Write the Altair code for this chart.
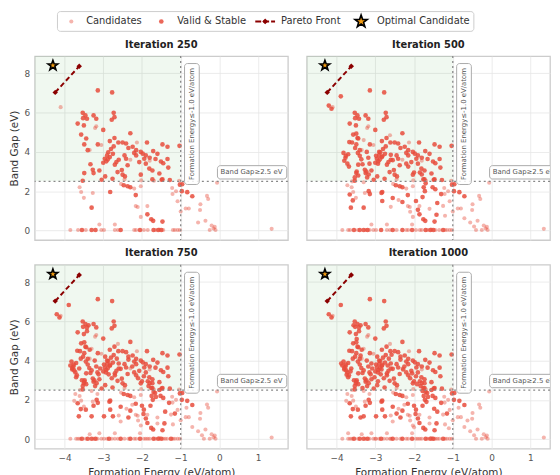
import altair as alt
import pandas as pd

# ------------------------------------------------------------------ data
ITERATIONS = [250, 500, 750, 1000]
SERIES = ["Candidates", "Valid & Stable", "Pareto Front", "Optimal Candidate"]

X_TICKS = [-4, -3, -2, -1, 0, 1]
Y_TICKS = [0, 2, 4, 6, 8]
X_DOMAIN_LEFT = [-4.77, 1.77]
X_DOMAIN_RIGHT = [-4.77, 1.51]
Y_DOMAIN = [-0.49, 8.88]

FE_LIMIT = -1.0
GAP_LIMIT = 2.5
FE_LABEL = "Formation Energy≤-1.0 eV/atom"
GAP_LABEL = "Band Gap≥2.5 eV"
FE_LABEL_POS = [-0.71, 5.42]
FE_BOX = [-0.90, -0.52, 2.34, 8.50]
GAP_LABEL_POS = [0.03, 2.96]
GAP_BOX = [-0.05, 1.74, 2.62, 3.30]

PARETO_X = [-4.24, -3.62]
PARETO_Y = [7.03, 8.36]
OPTIMAL_X = [-4.30]
OPTIMAL_Y = [8.40]

# points already present at iteration 250
VALID_250 = [
    (-3.14, 7.13), (-2.77, 7.03), (-3.53, 5.99), (-3.46, 5.86), (-3.52, 5.72), (-3.42, 5.69),
    (-3.25, 5.86), (-3.18, 5.69), (-2.73, 5.99), (-2.71, 5.77), (-2.78, 5.64), (-3.66, 5.44),
    (-3.50, 5.35), (-3.00, 5.12), (-3.57, 4.88), (-3.44, 4.68), (-3.49, 4.38), (-3.40, 4.09),
    (-3.14, 4.38), (-2.71, 4.71), (-2.83, 4.55), (-2.30, 4.95), (-2.61, 4.48), (-2.50, 4.48),
    (-2.41, 4.43), (-2.73, 4.28), (-2.80, 4.15), (-2.87, 3.98), (-2.90, 3.82), (-2.96, 3.65),
    (-2.92, 3.52), (-2.83, 3.74), (-2.75, 3.90), (-2.66, 3.48), (-3.00, 3.45), (-2.88, 3.62),
    (-1.87, 4.48), (-2.24, 4.26), (-2.15, 4.09), (-2.03, 4.00), (-1.98, 3.91), (-1.90, 3.82),
    (-1.94, 3.65), (-2.15, 3.82), (-2.07, 3.48), (-1.90, 3.40), (-1.81, 3.15), (-1.73, 3.05),
    (-2.45, 3.82), (-2.41, 3.65), (-2.37, 3.32), (-2.52, 3.08), (-1.47, 4.38), (-1.34, 4.26),
    (-1.03, 4.31), (-1.71, 4.04), (-1.65, 3.64), (-1.51, 3.51), (-1.45, 3.42), (-1.34, 3.64),
    (-1.32, 3.20), (-3.33, 3.37), (-3.27, 3.09), (-3.25, 2.92), (-3.49, 2.92), (-2.63, 2.97),
    (-2.50, 2.84), (-2.44, 2.75), (-2.95, 2.75), (-3.04, 2.58), (-2.76, 2.63), (-3.53, 2.53),
    (-2.03, 2.84), (-1.49, 2.58), (-1.28, 2.57), (-1.73, 2.60), (-1.47, 2.60), (-1.02, 2.33),
    (-3.30, 1.16), (-2.82, 1.96), (-2.47, 2.30), (-2.37, 2.25), (-2.30, 2.20), (-2.16, 1.80),
    (-1.86, 0.82), (-1.76, 0.57), (-1.71, 0.49), (-1.47, 0.45), (-0.97, 2.00), (-0.70, 1.74),
    (-0.83, 1.95), (-0.96, 2.35), (-3.55, 0.02), (-3.30, 0.02), (-3.20, 0.02), (-2.55, 0.02),
    (-2.05, 0.02), (-1.70, 0.02), (-1.58, 0.02), (-1.50, 0.02), (-2.60, 3.60), (-2.20, 3.95),
    (-1.80, 3.70), (-2.35, 4.20), (-3.10, 3.05), (-2.70, 3.35), (-1.60, 3.90), (-1.55, 2.90),
]
CAND_250 = [
    (-4.10, 6.28), (-3.21, 5.22), (-2.13, 4.48), (-1.69, 2.53), (-1.04, 2.53), (-3.61, 2.20),
    (-3.57, 1.96), (-3.50, 1.66), (-3.27, 1.91), (-2.54, 2.37), (-2.20, 2.13), (-2.03, 2.25),
    (-2.16, 1.24), (-2.11, 1.19), (-1.86, 1.24), (-2.03, 0.69), (-1.22, 2.16), (-1.21, 1.86),
    (-1.12, 2.00), (-1.08, 1.49), (-0.87, 1.12), (-0.79, 1.12), (-0.49, 1.33), (-0.50, 1.04),
    (-0.32, 1.76), (-0.29, 1.60), (-0.55, 0.40), (-0.36, 0.49), (-0.20, 0.25), (-0.15, 0.10),
    (-0.10, 0.02), (-0.25, 0.02), (-0.12, 0.18), (-0.06, 2.43), (1.35, 0.08), (-1.00, 0.96),
    (-3.85, 0.02), (-3.65, 0.02), (-3.45, 0.02), (-3.10, 0.30), (-3.05, 0.02), (-2.98, 0.02),
    (-2.70, 0.30), (-2.70, 0.02), (-2.62, 0.02), (-2.20, 0.02), (-2.15, 0.02), (-1.95, 0.02),
    (-1.85, 0.02), (-1.65, 0.02), (-1.55, 0.05), (-1.45, 0.02), (-1.20, 0.02), (-1.15, 0.02),
    (-1.08, 0.02), (-1.02, 0.02), (-3.35, 4.10), (-3.18, 5.30), (-3.05, 4.35), (-2.02, 2.55),
    (-2.45, 2.60), (-2.30, 3.60), (-1.80, 3.55),
]

# points added by iteration 500
VALID_500 = [
    (-3.89, 6.83), (-4.20, 6.36), (-4.13, 6.20), (-3.82, 3.95), (-3.76, 3.80), (-3.80, 3.55),
    (-3.72, 3.40), (-3.68, 3.25), (-3.77, 3.70), (-3.70, 3.88), (-3.67, 4.50), (-3.60, 4.48),
    (-3.49, 4.93), (-3.46, 4.71), (-3.52, 4.20), (-3.45, 3.95), (-3.40, 3.80), (-3.36, 3.62),
    (-3.44, 3.35), (-3.48, 3.00), (-3.44, 2.80), (-3.53, 2.70), (-3.22, 4.00), (-3.18, 3.70),
    (-3.15, 3.40), (-3.23, 3.00), (-3.17, 2.85), (-3.21, 2.70), (-2.98, 3.80), (-2.90, 4.00),
    (-2.82, 3.78), (-2.93, 3.40), (-2.60, 3.85), (-2.55, 3.58), (-2.20, 3.40), (-2.15, 3.25),
    (-2.00, 2.95), (-1.85, 2.95), (-1.80, 2.85), (-1.76, 2.60), (-1.70, 2.40), (-1.75, 2.20),
    (-1.72, 2.00), (-1.78, 1.70), (-3.66, 1.83), (-3.58, 1.53), (-3.63, 1.16), (-3.17, 2.00),
    (-3.14, 1.85), (-2.84, 1.91), (-2.82, 1.50), (-2.55, 1.65), (-2.30, 1.45), (-1.95, 1.50),
    (-1.90, 1.05), (-1.52, 2.20), (-1.45, 2.10), (-1.30, 1.85), (-1.40, 1.40), (-1.42, 0.80),
    (-3.40, 0.02), (-2.85, 0.02), (-2.30, 0.02), (-1.25, 0.02),
]
CAND_500 = [
    (-3.72, 2.30), (-3.60, 2.50), (-3.30, 2.45), (-2.60, 1.20), (-2.40, 1.55), (-2.10, 0.95),
    (-1.60, 1.10), (-1.25, 1.25), (-1.20, 0.75), (-0.70, 0.62), (-0.45, 0.20), (-3.70, 0.02),
    (-3.25, 0.02), (-3.15, 0.02), (-2.45, 0.02), (-2.05, 0.30), (-1.80, 0.02), (-1.35, 0.02),
    (-0.40, 0.02), (-2.62, 4.85), (-3.30, 4.60),
]

# points added by iteration 750
VALID_750 = [
    (-3.85, 3.75), (-3.80, 3.62), (-3.75, 3.50), (-3.70, 3.15), (-3.62, 3.60), (-3.58, 4.10),
    (-3.55, 3.00), (-3.50, 2.85), (-3.42, 5.50), (-3.38, 5.80), (-3.35, 4.55), (-3.30, 3.50),
    (-3.12, 3.30), (-3.08, 3.60), (-2.95, 4.20), (-2.86, 3.30), (-2.78, 3.10), (-2.70, 3.25),
    (-2.65, 4.10), (-2.35, 4.05), (-2.25, 3.70), (-2.10, 3.10), (-1.95, 3.20), (-1.83, 2.70),
    (-1.73, 2.85), (-1.66, 2.35), (-1.64, 2.15), (-1.55, 2.50), (-2.00, 1.70), (-1.96, 1.28),
    (-2.35, 1.10), (-3.45, 1.50), (-3.25, 1.70), (-2.98, 1.16), (-2.75, 1.16), (-1.15, 1.30),
]
CAND_750 = [
    (-3.75, 1.95), (-3.15, 2.30), (-2.55, 0.90), (-2.25, 1.75), (-1.60, 0.80), (-0.85, 1.60),
    (-3.60, 0.02), (-3.35, 0.25), (-2.90, 0.02), (-2.78, 0.02), (-2.35, 0.02), (-1.90, 0.02),
    (-1.40, 0.02),
]

# points added by iteration 1000
VALID_1000 = [
    (-3.88, 3.85), (-3.74, 3.28), (-3.64, 3.45), (-3.56, 5.80), (-3.48, 5.10), (-3.38, 4.25),
    (-3.33, 2.60), (-3.10, 3.85), (-3.02, 3.15), (-2.93, 2.95), (-2.84, 3.55), (-2.68, 3.75),
    (-2.58, 4.30), (-2.28, 3.55), (-2.05, 3.35), (-1.92, 2.80), (-1.78, 2.45), (-1.68, 1.90),
    (-2.45, 1.30), (-1.48, 1.55), (-3.38, 1.10),
]
CAND_1000 = [
    (-3.70, 0.30), (-2.60, 0.02), (-2.00, 0.60), (-1.10, 0.55), (-0.62, 0.95), (-3.00, 0.02),
    (-1.52, 0.02),
]

VALID_BY_STEP = [VALID_250, VALID_500, VALID_750, VALID_1000]
CAND_BY_STEP = [CAND_250, CAND_500, CAND_750, CAND_1000]

# ------------------------------------------------------------------ style / layout
FONT = "DejaVu Sans"
RED = "#e74c3c"
DARK_RED = "#8b0000"
STAR_FILL = "#f39c12"
RULE_GRAY = "#888888"
ANNOT_FONT_SIZE = 7
# five-pointed star as an SVG path in the unit square (Vega has no built-in star)
STAR_PATH = ("M0,-1L0.235,-0.324L0.951,-0.309L0.38,0.124L0.588,0.809L0,0.4"
             "L-0.588,0.809L-0.38,0.124L-0.951,-0.309L-0.235,-0.324Z")

# hand-made legend layout (pixels inside the legend strip, which starts at the plot's left edge)
LEGEND_STRIP_W = 500
LEGEND_BOX = [23, 444]
LEGEND_SYMBOL_X = [37, 128, 233, 330]
LEGEND_TEXT_X = [52, 144, 249, 346]
LEGEND_LINE = [223, 243]


def frame_of(groups, k):
    rows = []
    for step in range(k + 1):
        rows += [{"x": x, "y": y} for x, y in groups[step]]
    return pd.DataFrame(rows)


def panel(k, show_x, show_y, width, x_domain):
    xs = alt.Scale(domain=x_domain, nice=False, zero=False)
    ys = alt.Scale(domain=Y_DOMAIN, nice=False, zero=False)
    xa = alt.Axis(values=X_TICKS, labels=show_x, title="Formation Energy (eV/atom)" if show_x else "")
    ya = alt.Axis(values=Y_TICKS, labels=show_y, title="Band Gap (eV)" if show_y else "")

    def X():
        return alt.X("x:Q", scale=xs, axis=xa)

    def Y():
        return alt.Y("y:Q", scale=ys, axis=ya)

    shade = alt.Chart(pd.DataFrame({"x": [x_domain[0]], "x2": [FE_LIMIT], "y": [GAP_LIMIT], "y2": [Y_DOMAIN[1]]})).mark_rect(
        color="green", opacity=0.06
    ).encode(x=X(), x2="x2:Q", y=Y(), y2="y2:Q")

    cand = alt.Chart(frame_of(CAND_BY_STEP, k)).mark_circle(color=RED, opacity=0.42, size=17).encode(x=X(), y=Y())
    valid = alt.Chart(frame_of(VALID_BY_STEP, k)).mark_circle(color=RED, opacity=0.85, size=22).encode(x=X(), y=Y())

    vrule = alt.Chart(pd.DataFrame({"x": [FE_LIMIT]})).mark_rule(
        color=RULE_GRAY, strokeDash=[2, 3], strokeWidth=1.3
    ).encode(x=X())
    hrule = alt.Chart(pd.DataFrame({"y": [GAP_LIMIT]})).mark_rule(
        color=RULE_GRAY, strokeDash=[2, 3], strokeWidth=1.3
    ).encode(y=Y())

    pareto_df = pd.DataFrame({"x": PARETO_X, "y": PARETO_Y})
    pline = alt.Chart(pareto_df).mark_line(color=DARK_RED, strokeDash=[5, 3], strokeWidth=2).encode(x=X(), y=Y())
    pmark = alt.Chart(pareto_df).mark_point(shape="diamond", filled=True, color=DARK_RED, size=30, opacity=1).encode(
        x=X(), y=Y())

    star = alt.Chart(pd.DataFrame({"x": OPTIMAL_X, "y": OPTIMAL_Y})).mark_point(
        shape=STAR_PATH, filled=True, fill=STAR_FILL, stroke="black", strokeWidth=1.6, size=110, opacity=1
    ).encode(x=X(), y=Y())

    fe_box = alt.Chart(pd.DataFrame({"x": [FE_BOX[0]], "x2": [FE_BOX[1]], "y": [FE_BOX[2]], "y2": [FE_BOX[3]]})).mark_rect(
        fill="white", fillOpacity=0.85, stroke="#aaaaaa", strokeWidth=1, cornerRadius=3
    ).encode(x=X(), x2="x2:Q", y=Y(), y2="y2:Q")
    fe_text = alt.Chart(pd.DataFrame({"x": [FE_LABEL_POS[0]], "y": [FE_LABEL_POS[1]], "t": [FE_LABEL]})).mark_text(
        angle=270, fontSize=ANNOT_FONT_SIZE, font=FONT, color="#555555", align="center", baseline="middle"
    ).encode(x=X(), y=Y(), text="t:N")

    gap_box = alt.Chart(pd.DataFrame({"x": [GAP_BOX[0]], "x2": [GAP_BOX[1]], "y": [GAP_BOX[2]], "y2": [GAP_BOX[3]]})).mark_rect(
        fill="white", fillOpacity=0.85, stroke="#aaaaaa", strokeWidth=1, cornerRadius=3, clip=True
    ).encode(x=X(), x2="x2:Q", y=Y(), y2="y2:Q")
    gap_text = alt.Chart(pd.DataFrame({"x": [GAP_LABEL_POS[0]], "y": [GAP_LABEL_POS[1]], "t": [GAP_LABEL]})).mark_text(
        fontSize=ANNOT_FONT_SIZE, font=FONT, color="#555555", align="left", baseline="middle", clip=True
    ).encode(x=X(), y=Y(), text="t:N")

    return alt.layer(shade, cand, valid, vrule, hrule, pline, pmark, star, fe_box, fe_text, gap_box, gap_text).properties(
        width=width, height=186,
        title=alt.Title(f"Iteration {ITERATIONS[k]}", fontSize=10, fontWeight="bold", font=FONT, color="#222222", offset=6),
    )


# ---- legend strip drawn by hand
leg_df = pd.DataFrame({"label": SERIES, "sx": LEGEND_SYMBOL_X, "tx": LEGEND_TEXT_X})
lx = alt.Scale(domain=[0, LEGEND_STRIP_W], nice=False, zero=False)
leg_box = alt.Chart(leg_df).transform_filter(alt.datum.label == SERIES[0]).mark_rect(
    fill="white", stroke="#cccccc", strokeWidth=1, cornerRadius=3
).encode(x=alt.value(LEGEND_BOX[0]), x2=alt.value(LEGEND_BOX[1]), y=alt.value(0), y2=alt.value(20))
leg_cand = alt.Chart(leg_df).transform_filter(alt.datum.label == SERIES[0]).mark_circle(
    color=RED, opacity=0.42, size=17).encode(x=alt.X("sx:Q", scale=lx, axis=None), y=alt.value(10))
leg_valid = alt.Chart(leg_df).transform_filter(alt.datum.label == SERIES[1]).mark_circle(
    color=RED, opacity=0.85, size=22).encode(x=alt.X("sx:Q", scale=lx, axis=None), y=alt.value(10))
leg_line = alt.Chart(leg_df).transform_filter(alt.datum.label == SERIES[2]).mark_rule(
    color=DARK_RED, strokeWidth=2, strokeDash=[6, 2]
).encode(x=alt.value(LEGEND_LINE[0]), x2=alt.value(LEGEND_LINE[1]), y=alt.value(10))
leg_diamond = alt.Chart(leg_df).transform_filter(alt.datum.label == SERIES[2]).mark_point(
    shape="diamond", filled=True, color=DARK_RED, size=34, opacity=1).encode(
    x=alt.X("sx:Q", scale=lx, axis=None), y=alt.value(10))
leg_star = alt.Chart(leg_df).transform_filter(alt.datum.label == SERIES[3]).mark_point(
    shape=STAR_PATH, filled=True, fill=STAR_FILL, stroke="black", strokeWidth=1.6, size=170, opacity=1).encode(
    x=alt.X("sx:Q", scale=lx, axis=None), y=alt.value(10))
leg_text = alt.Chart(leg_df).mark_text(
    align="left", baseline="middle", font=FONT, fontSize=10, color="#333333"
).encode(x=alt.X("tx:Q", scale=lx, axis=None), y=alt.value(10), text="label:N")
legend = alt.layer(leg_box, leg_cand, leg_valid, leg_line, leg_diamond, leg_star, leg_text).properties(
    width=LEGEND_STRIP_W, height=20, view=alt.ViewBackground(strokeOpacity=0)
)

top = alt.hconcat(
    panel(0, False, True, 256, X_DOMAIN_LEFT),
    panel(1, False, False, 246, X_DOMAIN_RIGHT),
    spacing=15,
)
bottom = alt.hconcat(
    panel(2, True, True, 256, X_DOMAIN_LEFT),
    panel(3, True, False, 246, X_DOMAIN_RIGHT),
    spacing=15,
)

chart = alt.vconcat(legend, alt.vconcat(top, bottom, spacing=5), spacing=6).properties(
    padding={"left": 0, "top": 0, "right": 0, "bottom": 0}
).configure_view(
    stroke="#cccccc", strokeWidth=1.3
).configure_axis(
    grid=True, gridColor="#e6e6e6", gridWidth=0.8, domain=False, ticks=False,
    labelFont=FONT, labelFontSize=9, labelColor="#555555", labelPadding=5,
    titleFont=FONT, titleFontSize=10.5, titleFontWeight="normal", titleColor="#333333", titlePadding=5,
)

chart.save("out.html", embed_options={"renderer": "svg", "actions": False})
